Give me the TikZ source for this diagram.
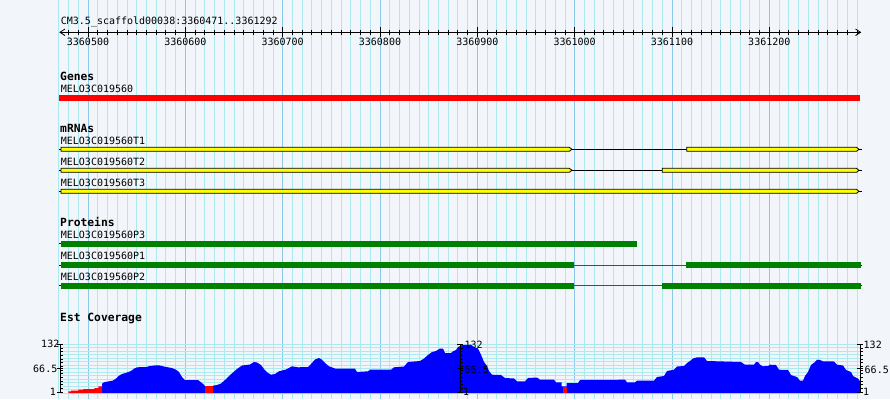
\documentclass[tikz,border=0pt]{standalone}
\usepackage{fontspec}
\setmainfont{DejaVu Sans Mono}
\setmonofont{DejaVu Sans Mono}
\definecolor{bg}{RGB}{242,246,250}
\definecolor{gridminor}{RGB}{172,234,240}
\definecolor{gridmajor}{RGB}{140,200,232}
\definecolor{protgreen}{RGB}{0,128,0}
\definecolor{covblue}{RGB}{0,0,255}
\definecolor{covred}{RGB}{255,0,0}
\definecolor{genered}{RGB}{255,0,0}
\definecolor{mrnayellow}{RGB}{255,255,0}
\begin{document}
\begin{tikzpicture}[x=1pt,y=-1pt,
  lbl/.style={anchor=base west, inner sep=0pt, font=\fontsize{10}{12}\selectfont},
  numlbl/.style={anchor=base, inner sep=0pt, font=\fontsize{10}{12}\selectfont},
  axlbl/.style={inner sep=0pt, font=\fontsize{10}{12}\selectfont},
  tracklbl/.style={anchor=base west, inner sep=0pt, font=\fontsize{11.3}{13}\selectfont\bfseries},
  mrnabar/.style={fill=mrnayellow, draw=black, line width=0.8pt},
  protbar/.style={fill=protgreen},
  intronline/.style={draw=black, line width=0.8pt},
  protintron/.style={draw=protgreen, line width=0.8pt},
  stubline/.style={draw=black!70!protgreen, line width=0.8pt},
  axisline/.style={draw=black, line width=0.8pt}]
\fill[bg] (0,0) rectangle (890,399);
\useasboundingbox (0,0) rectangle (890,399);
% vertical grid
\foreach \i in {0,...,82}{
  \pgfmathsetmacro{\gx}{58.8+9.7329*\i}
  \draw[gridminor, line width=0.8pt] (\gx,0) -- (\gx,399);
}
\foreach \i in {3,13,...,73}{
  \pgfmathsetmacro{\gx}{58.8+9.7329*\i}
  \draw[gridmajor, line width=0.8pt] (\gx,0) -- (\gx,399);
}
% coverage horizontal grid
\foreach \k in {0,...,14}{
  \pgfmathsetmacro{\gy}{344+3.5*\k}
  \draw[gridminor, line width=0.8pt] (60,\gy) -- (860,\gy);
}
% ruler
\node[lbl] (title) at (60.7,24.7) {CM3.5\_scaffold00038:3360471..3361292};
\coordinate (rulerL) at (60,32.3);
\coordinate (rulerR) at (860.5,32.3);
\draw[line width=0.8pt] (rulerL) -- (rulerR);
\draw[line width=0.8pt] (65,29) -- (rulerL) -- (65,35.6);
\draw[line width=0.8pt] (855.5,29) -- (rulerR) -- (855.5,35.6);
\foreach \i in {1,...,82}{
  \pgfmathsetmacro{\gx}{58.8+9.7329*\i}
  \draw[line width=0.8pt] (\gx,29.5) -- (\gx,35);
}
\foreach \i/\lab in {3/3360500,13/3360600,23/3360700,33/3360800,43/3360900,53/3361000,63/3361100,73/3361200}{
  \pgfmathsetmacro{\gx}{58.8+9.7329*\i}
  \draw[line width=0.8pt] (\gx,27) -- (\gx,37);
  \node[numlbl] (n\lab) at (\gx,45.7) {\lab};
}
% Genes
\node[tracklbl] (genes) at (60,80) {Genes};
\node[lbl] (gname) at (60.7,92) {MELO3C019560};
\fill[genered] (59,95) rectangle (860,101);
% mRNAs
\node[tracklbl] (mrnas) at (60,132) {mRNAs};
\node[lbl] (t1) at (60.7,144.7) {MELO3C019560T1};
\node[lbl] (t2) at (60.7,165) {MELO3C019560T2};
\node[lbl] (t3) at (60.7,186) {MELO3C019560T3};
% T1
\draw[intronline] (59,149.3) -- (61,149.3);
\draw[intronline] (572,149.3) -- (686.7,149.3);
\draw[intronline] (858.5,149.3) -- (861.7,149.3);
\filldraw[mrnabar] (61,147.3) -- (569.3,147.3) -- (572,149.3) -- (569.3,151.3) -- (61,151.3) -- cycle;
\filldraw[mrnabar] (686.7,147.3) -- (856.5,147.3) -- (859,149.3) -- (856.5,151.3) -- (686.7,151.3) -- cycle;
% T2
\draw[intronline] (59,170.3) -- (61,170.3);
\draw[intronline] (572,170.3) -- (662.3,170.3);
\draw[intronline] (858.5,170.3) -- (861.7,170.3);
\filldraw[mrnabar] (61,168.3) -- (569.3,168.3) -- (572,170.3) -- (569.3,172.3) -- (61,172.3) -- cycle;
\filldraw[mrnabar] (662.3,168.3) -- (856.5,168.3) -- (859,170.3) -- (856.5,172.3) -- (662.3,172.3) -- cycle;
% T3
\draw[intronline] (59,191.3) -- (61,191.3);
\draw[intronline] (858.5,191.3) -- (861.7,191.3);
\filldraw[mrnabar] (61,189.3) -- (856.5,189.3) -- (859,191.3) -- (856.5,193.3) -- (61,193.3) -- cycle;
% Proteins
\node[tracklbl] (prots) at (60,226) {Proteins};
\node[lbl] (p3) at (60.7,238.7) {MELO3C019560P3};
\node[lbl] (p1) at (60.7,259.3) {MELO3C019560P1};
\node[lbl] (p2) at (60.7,280) {MELO3C019560P2};
\draw[stubline] (59,243.7) -- (61,243.7);
\fill[protbar] (61,240.7) rectangle (636.7,246.7);
\draw[stubline] (59,265) -- (61,265);
\draw[protintron] (573.7,265) -- (686,265);
\fill[protbar] (61,262.3) rectangle (573.7,267.7);
\fill[protbar] (686,262.3) rectangle (860.7,267.7);
\draw[stubline] (860.7,265) -- (862,265);
\draw[stubline] (59,285.8) -- (61,285.8);
\draw[protintron] (573.7,285.8) -- (662,285.8);
\fill[protbar] (61,283) rectangle (573.7,288.7);
\fill[protbar] (662,283) rectangle (860.7,288.7);
\draw[stubline] (860.7,285.8) -- (862,285.8);
% Est coverage
\node[tracklbl] (estcov) at (60,321) {Est Coverage};
\fill[covblue] (102,393) -- (102,383.7) -- (104,382.3) -- (108,381.5) -- (113,380.5) -- (116,378.5) -- (119,375.7) -- (122,374) -- (127,372.5) -- (131,371) -- (134,368.7) -- (137,367.3) -- (146,367) -- (150,366) -- (156,365.3) -- (160,365.5) -- (165,366.8) -- (172,368) -- (176,369.7) -- (179,372) -- (182,377) -- (185,380) -- (198,380) -- (201,382.3) -- (204,384.7) -- (205,386.3) -- (213,386.3) -- (213,385.7) -- (217,385) -- (221,383.5) -- (225,380) -- (229,376) -- (233,372.5) -- (237,369) -- (242,365.5) -- (250,364.5) -- (254,362) -- (257,362.5) -- (261,365) -- (264,369) -- (268,373) -- (271,374.7) -- (275,374) -- (279,371.3) -- (286,369.5) -- (292,366.3) -- (298,367.3) -- (308,367) -- (311,364) -- (315,359.5) -- (319,358) -- (322,359.7) -- (325,363) -- (329,366.3) -- (335,368.5) -- (355,368.7) -- (357,372) -- (368,371.3) -- (370,369.7) -- (391,369.7) -- (394,367.3) -- (404,366.5) -- (408,362) -- (420,361) -- (424,358.5) -- (428,355) -- (432,352) -- (436,351) -- (440,348.5) -- (443,348.5) -- (445,353) -- (451,353) -- (453,351.3) -- (456,350) -- (458,347) -- (462,345) -- (471,344.7) -- (474,347) -- (478,348.5) -- (481,354.7) -- (484,362) -- (487,366) -- (489,371) -- (492,374.7) -- (501,375) -- (505,378) -- (514,378.5) -- (517,381.3) -- (525,381.3) -- (528,378) -- (537,377.5) -- (540,379.7) -- (554,379.7) -- (556,382.3) -- (561.7,382.3) -- (561.7,386.3) -- (566.7,386.3) -- (566.7,383) -- (578,383) -- (580,380) -- (625,379.7) -- (627,382.3) -- (635,382.3) -- (637,380.7) -- (654,380.7) -- (657,377) -- (664,376) -- (667,371) -- (674,369.7) -- (677,366.5) -- (684,366) -- (687,363) -- (690,361) -- (693,358.5) -- (697,357.3) -- (704,357.3) -- (707,361) -- (741,362) -- (745,364.7) -- (754,364.7) -- (756,362) -- (758,362) -- (760,364.7) -- (763,366.3) -- (768,366) -- (770,364.7) -- (776,365) -- (779,369.7) -- (788,370) -- (791,375) -- (797,377) -- (800,380.7) -- (803,380.7) -- (805,376) -- (808,372) -- (811,365) -- (815,362) -- (817,359.7) -- (820,360) -- (823,361.3) -- (834,361.5) -- (837,364.7) -- (843,365.5) -- (846,370) -- (851,372) -- (853,376) -- (858,378.5) -- (860,381.3) -- (860,393) -- cycle;
\fill[covred] (68.3,393) -- (68.3,391.3) -- (71,391.3) -- (71,390.7) -- (78.3,390.7) -- (78.3,389.7) -- (83.3,389.7) -- (83.3,389) -- (94.3,389) -- (94.3,388) -- (98.3,388) -- (98.3,386.3) -- (102,386.3) -- (102,393) -- cycle;
\fill[covred] (205,386.3) rectangle (212.7,393);
\fill[covred] (562.5,386.5) rectangle (566.7,393);
% coverage axes
\foreach \ax in {60,460.3,860}{
  \draw[axisline] (\ax,344.3) -- (\ax,393);
  \foreach \k in {0,...,13}{
    \pgfmathsetmacro{\ty}{344.5+3.67*\k}
    \draw[axisline] (\ax,\ty) -- (\ax+2.7,\ty);
  }
  \foreach \ty in {344.3,368.5,392.7}{
    \draw[axisline] (\ax-3,\ty) -- (\ax+3,\ty);
  }
}
\node[axlbl, anchor=base east] (l132) at (59.5,347.7) {132};
\node[axlbl, anchor=base east] (l665) at (57.5,372.7) {66.5};
\node[axlbl, anchor=base east] (l1) at (56,395.7) {1};
\node[axlbl, anchor=base west] (m132) at (464.5,348.3) {132};
\node[axlbl, anchor=base west] (m665) at (464.5,373.3) {66.5};
\node[axlbl, anchor=base west] (m1) at (463,395.7) {1};
\node[axlbl, anchor=base west] (r132) at (863.5,348.3) {132};
\node[axlbl, anchor=base west] (r665) at (864.5,373.3) {66.5};
\node[axlbl, anchor=base west] (r1) at (863,395.7) {1};
\end{tikzpicture}
\end{document}
